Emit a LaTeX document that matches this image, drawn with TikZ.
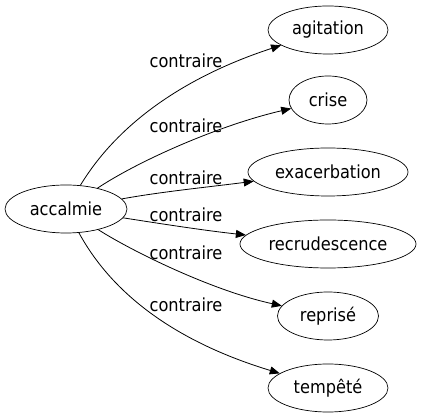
\documentclass[tikz,border=0pt]{standalone}
\usepackage{fontspec}
\setmainfont{DejaVu Sans Condensed}
\usepackage{tikz}
\usetikzlibrary{positioning,shapes.geometric,arrows.meta}

\begin{document}
\begin{tikzpicture}[x=1pt,y=-1pt,
  word/.style={draw,line width=0.7pt,ellipse,minimum height=48pt,inner sep=0pt,font=\fontsize{18}{20}\selectfont},
  rel/.style={font=\fontsize{18}{20}\selectfont,inner sep=0pt},
  link/.style={black,line width=0.8pt,-{Triangle[length=10pt,width=8pt]}}]
\useasboundingbox (0,0) rectangle (421,419);

\node[word,minimum width=122pt] (accalmie) at (66,209) {accalmie};
\node[word,minimum width=120pt] (agitation) at (328,30) {agitation};
\node[word,minimum width=78pt] (crise) at (328,100) {crise};
\node[word,minimum width=160pt] (exacerbation) at (328,172) {exacerbation};
\node[word,minimum width=176pt] (recrudescence) at (328,244) {recrudescence};
\node[word,minimum width=101pt] (reprise) at (328,316) {reprisé};
\node[word,minimum width=120pt] (tempete) at (328,388) {tempêté};

\node[rel] (r1) at (186,61) {contraire};
\node[rel] (r2) at (186,126) {contraire};
\node[rel] (r3) at (186,178) {contraire};
\node[rel] (r4) at (186,215) {contraire};
\node[rel] (r5) at (186,253) {contraire};
\node[rel] (r6) at (186,305) {contraire};

\draw [link] (accalmie) .. controls (120,120) and (190,75) .. (agitation);
\draw [link] (accalmie) .. controls (140,160) and (220,125) .. (crise);
\draw [link] (accalmie) .. controls (160,192) and (200,188) .. (exacerbation);
\draw [link] (accalmie) .. controls (150,222) and (200,230) .. (recrudescence);
\draw [link] (accalmie) .. controls (130,250) and (210,290) .. (reprise);
\draw [link] (accalmie) .. controls (110,290) and (170,340) .. (tempete);
\end{tikzpicture}
\end{document}
